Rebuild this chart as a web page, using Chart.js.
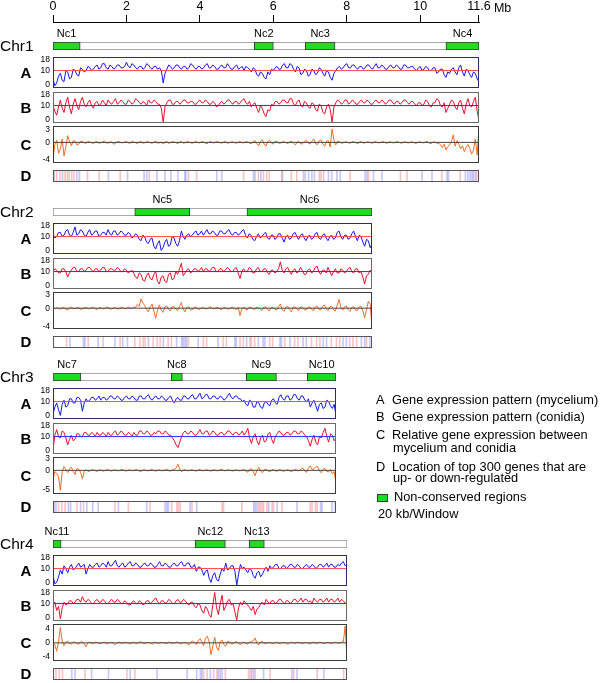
<!DOCTYPE html>
<html>
<head>
<meta charset="utf-8">
<script src="https://cdn.jsdelivr.net/npm/chart.js@4.4.1/dist/chart.umd.min.js"></script>
<style>
body { margin: 0; background: #fff; font-family: "Liberation Sans", Arial, sans-serif; }
#fig { position: relative; width: 600px; height: 683px; overflow: hidden; }
#fig canvas, #fig .txt { position: absolute; }
.txt { white-space: nowrap; color: #000; }
</style>
</head>
<body>
<div id="fig"></div>
<script>
// window step of the plotted series (Mb)
const STEP = 0.05;
const axisTicks = [0, 2, 4, 6, 8, 10, 11.6];
const abTicks = [18, 10, 0];

// ---- Chr1 ----
const chr1Regions = [[0, 0.74], [5.48, 6.0], [6.87, 7.68], [10.7, 11.6]];
const chr1RegionNames = ['Nc1', 'Nc2', 'Nc3', 'Nc4'];
const chr1A = [4,-1,1,6,8,3,2,10,9,4,5,11,10,7,6,12,11,9,10,13,
  12,10,11,13,14,11,12,15,15,12,11,14,13,11,12,14,14,12,12,13,
  16,13,12,15,14,12,11,13,13,11,12,15,14,12,11,13,13,11,12,10,
  1,8,11,14,13,11,12,14,14,12,11,13,13,11,12,15,14,12,11,13,
  13,11,12,14,15,12,12,14,13,11,11,13,14,12,12,15,13,11,11,13,
  14,11,12,13,10,13,12,11,9,12,11,7,6,9,8,5,4,9,7,11,
  10,12,13,11,11,14,15,12,12,15,14,11,9,13,12,7,8,11,10,6,
  7,11,10,7,8,12,11,8,6,10,9,5,3,8,10,12,13,11,12,14,
  15,12,12,14,14,12,11,13,13,11,12,14,14,12,11,13,15,12,12,14,
  13,11,11,13,14,12,12,14,13,11,11,14,14,12,12,13,13,11,10,12,
  13,10,11,13,12,10,10,12,12,8,9,11,11,7,5,9,8,11,12,9,
  7,12,14,9,6,11,10,7,5,9,8,4,2];
const chr1B = [10,6,3,9,14,8,5,12,16,9,4,11,15,10,7,13,16,11,9,12,
  14,10,8,12,13,10,11,14,12,10,14,12,11,13,15,11,12,14,13,11,
  11,14,13,11,12,15,14,12,11,13,12,10,14,12,12,14,13,11,11,8,
  -2,9,12,14,14,11,11,13,13,11,12,14,14,12,12,13,13,11,11,13,
  14,12,12,14,13,11,11,13,12,9,10,12,13,11,12,14,14,12,11,13,
  13,11,12,14,15,12,11,13,9,11,12,8,5,10,8,4,2,7,6,11,
  10,13,13,11,12,14,14,12,12,15,15,11,10,13,14,10,9,13,12,9,
  8,12,11,7,6,11,10,5,4,9,11,7,-2,9,12,14,13,11,12,14,
  14,11,12,14,13,11,11,13,14,12,12,14,13,11,11,13,14,12,12,14,
  13,11,12,14,14,12,11,13,13,11,12,14,14,12,11,13,13,11,10,12,
  12,10,11,14,13,10,9,12,12,15,14,10,9,12,5,8,11,14,13,9,
  7,12,14,8,4,11,15,10,9,13,16,6,-1];
const chr1C = [-4,-0.5,0.5,-2.6,-1.5,0.8,-3.2,-1,1.6,0.2,-0.8,0.4,0.3,-0.6,-0.4,0.3,0.2,-0.1,-0.2,0.2,
  0.1,-0.1,-0.3,0.1,0.2,-0.2,-0.1,0.2,0.3,-0.1,-0.2,0.1,0.1,-0.4,-0.3,0.2,0.2,-0.1,-0.1,0.1,
  0.2,-0.1,-0.2,0.2,0.1,-0.1,-0.3,0.1,0.2,-0.2,-0.1,0.2,0.1,-0.1,-0.2,0.1,0.3,-0.2,-0.1,0.1,
  -0.4,0.1,0.2,-0.2,-0.1,0.2,0.1,-0.1,-0.3,0.1,0.2,-0.2,-0.1,0.2,0.1,-0.1,-0.2,0.1,0.2,-0.1,
  -0.1,0.2,0.1,-0.2,-0.3,0.1,0.2,-0.1,-0.1,0.2,0.1,-0.1,-0.2,0.1,0.2,-0.2,-0.1,0.1,0.1,-0.1,
  -0.2,0.1,0.2,-0.1,-0.1,0.2,0.1,-0.2,-0.3,0.2,0.4,-0.3,-0.8,0.2,0.6,-0.4,-0.9,0.3,0.5,-0.2,
  -0.4,0.3,0.2,-0.2,-0.2,0.2,0.1,-0.1,-0.3,0.2,0.3,-0.2,-0.6,0.1,0.2,-0.4,-0.3,0.3,0.5,-0.2,
  -0.4,0.3,0.8,-0.3,-0.5,0.4,0.6,-0.5,-0.9,0.3,0.4,-1.1,3.2,0.5,-0.6,0.3,0.2,-0.2,-0.1,0.1,
  0.1,-0.1,-0.2,0.2,0.1,-0.1,-0.3,0.1,0.2,-0.2,-0.1,0.1,0.1,-0.1,-0.2,0.2,0.1,-0.1,-0.1,0.1,
  0.2,-0.1,-0.2,0.1,0.1,-0.1,-0.1,0.2,0.1,-0.1,-0.2,0.1,0.1,-0.1,-0.1,0.1,0.1,-0.2,-0.2,0.1,
  0.1,-0.1,-0.1,0.2,0.2,-0.2,-0.3,0.1,0.1,-0.2,-0.2,-0.5,-1.2,-0.4,-1.8,-1.0,-0.6,0.2,1.8,-0.9,
  0.4,-0.4,-1.5,-0.8,-2.2,-1.2,-0.5,-1.4,-2.8,-1.8,0.8,-3.0,3.8];
const chr1CRange = [-4.9, 3.9];
const chr1CTicks = [3, 0, -4];
const chr1Up = [0.1,0.19,0.33,0.39,0.44,0.51,0.57,0.94,1.26,1.83,2.62,3.69,3.91,5.19,5.59,5.73,5.82,5.89,
  6.23,6.49,6.64,7.25,7.3,7.37,8.09,8.59,9.46,9.64,10.59,11.09,11.54];
const chr1Down = [0.03,0.26,0.65,0.72,1.51,2.03,2.48,2.55,2.83,3.05,3.21,3.4,3.59,3.62,4.46,4.6,5.46,5.5,
  5.66,6.25,6.82,6.87,6.96,7.05,7.12,7.5,7.59,7.73,7.82,8.5,8.55,8.73,8.96,10.05,10.32,10.73,10.77,
  11.23,11.3,11.36,11.41,11.45,11.5];

// ---- Chr2 ----
const chr2Regions = [[2.23, 3.73], [5.29, 8.7]];
const chr2RegionNames = ['Nc5', 'Nc6'];
const chr2A = [12,9,10,13,13,10,11,14,15,11,10,13,17,11,12,15,14,11,10,13,
  15,11,12,14,14,10,11,13,13,11,15,12,11,14,14,11,12,14,13,11,
  11,13,12,9,10,12,11,8,7,11,10,6,5,8,9,3,1,5,7,0,
  2,6,8,3,4,10,9,5,3,7,14,10,8,11,12,10,11,13,14,11,
  12,14,11,13,15,12,12,14,13,11,11,14,14,12,12,14,15,12,11,13,
  13,11,12,14,15,11,9,12,11,8,7,10,12,9,10,12,13,9,8,11,
  11,8,9,12,12,9,6,10,11,8,9,12,13,10,8,11,12,9,7,10,
  11,8,9,12,13,9,8,11,12,9,7,10,11,8,9,13,14,10,8,11,
  11,8,9,12,14,10,7,11,10,6,3,8,7,2,5];
const chr2B = [10,12,11,9,9,12,12,10,6,9,11,13,13,10,10,12,12,10,11,13,
  13,11,10,12,12,10,11,13,13,10,10,12,12,11,11,13,12,10,10,12,
  11,9,10,11,9,6,5,9,8,4,3,7,9,5,4,8,10,3,1,6,
  7,3,2,8,9,4,5,10,8,12,16,7,9,11,12,9,10,12,12,10,
  11,13,10,12,12,10,11,13,13,10,10,12,12,10,11,13,12,10,10,12,
  13,9,5,10,12,10,10,13,12,9,9,12,13,10,10,12,12,9,8,11,
  11,9,10,12,17,11,9,12,13,10,8,11,12,9,10,13,11,8,8,11,
  12,9,10,13,14,10,8,11,11,9,13,10,7,10,12,9,9,12,11,9,
  10,12,13,10,9,12,12,9,10,6,1,7,8,11,9];
const chr2C = [0,-0.1,0.1,-0.1,-0.2,0.1,0.1,-0.2,-0.4,0.1,0.2,-0.1,-0.1,0.1,0.1,-0.2,-0.2,0.1,0.1,-0.1,
  -0.1,0.1,0.2,-0.1,-0.3,0.1,0.1,-0.1,-0.1,0.2,0.2,-0.1,-0.2,0.1,0.1,-0.2,-0.1,0.1,0.2,-0.1,
  -0.1,0.2,0.1,-0.1,0.3,0.1,0.8,0.4,2,1.1,0.6,-0.3,-0.8,0.3,0.9,-0.6,-2.2,-0.5,0.7,-0.4,
  -0.9,0.3,0.5,-0.3,-0.6,0.3,0.4,-0.2,-0.5,0.4,1.2,-0.2,-0.8,0.2,0.3,-0.3,-0.4,0.2,0.2,-0.2,
  -0.3,0.1,0.1,-0.1,-0.2,0.2,0.3,-0.1,-0.1,0.1,0.2,-0.2,-0.3,0.1,0.1,-0.1,-0.2,0.1,0.2,-0.1,
  -0.3,0.2,-1.6,-0.2,0.3,-0.2,-0.4,0.2,0.2,-0.1,-0.3,0.2,0.1,-0.2,-0.5,0.2,0.3,-0.3,-0.6,0.2,
  0.2,-0.2,-0.4,0.3,0.9,-0.3,-0.7,0.2,0.4,-0.3,-0.8,0.2,0.3,-0.2,-0.5,0.3,0.2,-0.3,-0.4,0.2,
  0.3,-0.2,-0.6,0.3,0.5,-0.2,-0.3,0.4,0.7,-0.2,-0.5,0.3,0.4,-0.3,-0.6,0.6,1.9,0.2,-0.4,0.3,
  0.5,-0.3,-0.7,0.2,0.3,-0.4,-0.5,0.3,0.4,-0.6,-2.1,-0.3,1.5,0.8,-4];
const chr2CRange = [-4.5, 3.5];
const chr2CTicks = [3, 0, -4];
const chr2Up = [0.37,0.96,1.37,1.83,2.23,2.37,2.46,2.51,2.73,2.84,2.92,3.14,3.23,3.69,4.1,4.19,4.64,4.73,
  5.1,5.19,5.37,5.41,5.5,5.91,5.99,6.32,6.59,6.68,7.05,7.19,7.28,7.59,7.73,7.82,8.09,8.18,8.28,8.55];
const chr2Down = [0.46,0.83,0.87,1.23,1.69,1.9,2.03,2.6,3.01,3.37,3.51,3.55,3.6,3.64,3.96,4.5,4.96,5.0,
  5.28,5.6,5.73,5.78,6.19,6.23,6.46,6.82,6.91,7.37,7.46,7.91,8.0,8.41,8.5,8.64];

// ---- Chr3 ----
const chr3Regions = [[0, 0.76], [3.22, 3.52], [5.26, 6.08], [6.92, 7.7]];
const chr3RegionNames = ['Nc7', 'Nc8', 'Nc9', 'Nc10'];
const chr3A = [1,6,9,4,0,8,11,6,7,12,12,9,9,13,13,11,3,9,12,10,
  11,13,13,11,12,14,11,13,13,11,12,14,14,12,12,14,13,11,11,13,
  14,12,12,14,13,11,11,14,14,12,12,14,15,12,11,13,14,12,12,14,
  13,11,11,13,14,11,9,12,13,11,11,14,14,12,12,14,15,12,12,14,
  16,12,13,15,15,12,12,14,14,12,12,14,13,11,12,14,16,13,12,14,
  14,12,12,10,11,8,7,11,10,6,6,10,9,6,5,9,10,8,7,11,
  12,9,8,13,15,12,11,14,14,11,12,15,15,12,11,14,14,11,10,12,
  6,9,11,7,3,8,9,5,6,11,10,7,5,8,0];
const chr3B = [0,11,15,10,9,14,13,9,4,8,11,7,8,12,12,10,10,13,13,11,
  11,13,12,10,13,11,11,13,12,10,13,11,11,13,14,11,12,14,13,11,
  11,13,12,10,13,11,11,14,14,12,12,14,13,11,11,13,12,14,14,12,
  12,14,13,11,11,9,7,4,2,6,10,13,14,12,12,14,13,11,11,13,
  15,12,12,14,14,11,12,14,13,11,11,13,13,11,12,14,14,12,11,13,
  13,11,12,14,11,13,16,9,5,10,12,7,4,9,11,6,7,12,13,8,
  5,10,12,14,13,11,11,13,13,11,12,14,14,12,12,14,13,11,10,7,
  3,8,11,6,4,10,9,13,16,10,6,12,11,7,9];
const chr3C = [-2.5,-0.3,-0.8,-1.6,-5.2,-0.4,1.0,0.2,-0.6,0.4,0.8,-0.3,-1.1,0.5,0.3,-0.5,-2.3,-0.2,0.2,-0.3,
  -0.2,0.2,0.1,-0.1,-0.3,0.1,0.1,-0.2,-0.1,0.1,0.2,-0.1,-0.2,0.1,0.1,-0.1,-0.1,0.2,0.2,-0.1,
  -0.2,0.1,0.1,-0.1,-0.1,0.2,0.1,-0.2,-0.3,0.1,0.1,-0.1,-0.1,0.1,0.2,-0.1,-0.2,0.1,0.1,-0.1,
  -0.1,0.1,0.2,-0.1,-0.2,0.1,0.3,0.6,1.6,0.3,-0.4,0.1,0.2,-0.1,-0.1,0.1,0.1,-0.1,-0.2,0.1,
  0.2,-0.1,-0.1,0.1,0.1,-0.1,-0.2,0.1,0.1,-0.1,-0.1,0.2,0.2,-0.1,-0.1,0.1,0.1,-0.1,-0.2,0.1,
  0.1,-0.1,-0.1,0.1,0.2,-0.2,-0.5,0.2,0.4,-0.4,-1.4,0.1,0.8,-0.2,-0.6,0.2,0.3,-0.2,-0.4,0.1,
  0.2,-0.1,-0.3,0.2,0.1,-0.2,-0.2,0.1,0.1,-0.2,-0.3,0.1,0.2,-0.1,-0.1,0.4,0.6,-0.2,-0.5,0.5,
  1.2,0.2,0.4,0.9,1.0,-0.2,-0.6,0.3,0.5,-0.3,-0.4,0.2,-0.9,-0.3,-3.5];
const chr3CRange = [-6.2, 3.5];
const chr3CTicks = [3, 0, -5];
const chr3Up = [0.15,0.24,0.33,0.65,0.83,1.69,2.05,2.64,3.23,3.37,3.41,3.46,3.78,4.6,4.64,5.14,5.6,5.64,
  5.69,5.73,5.82,5.96,6.0,6.23,7.0,7.05,7.14,7.19];
const chr3Down = [0.03,0.08,0.42,0.48,0.75,0.92,1.08,1.23,1.78,2.55,3.05,3.1,3.14,3.73,3.91,5.46,5.5,5.55,
  5.87,6.1,6.64,7.28,7.32,7.59,7.68];

// ---- Chr4 ----
const chr4Regions = [[0, 0.22], [3.87, 4.69], [5.34, 5.75]];
const chr4RegionNames = ['Nc11', 'Nc12', 'Nc13'];
const chr4A = [5,-1,0,4,9,6,12,10,7,11,13,9,10,12,14,11,12,13,6,10,
  13,11,11,13,14,11,12,14,13,11,15,12,12,14,16,12,11,13,14,11,
  12,14,15,12,12,14,13,11,11,13,14,12,12,14,13,11,11,13,15,12,
  12,14,13,11,11,13,14,12,12,14,15,12,12,14,14,11,11,13,8,11,
  11,9,5,8,9,3,0,5,7,2,1,6,10,8,14,9,10,12,12,8,
  -2,6,13,10,11,9,7,10,9,5,3,7,8,4,6,9,11,8,12,10,
  11,13,13,10,10,12,12,10,11,13,13,11,11,13,12,10,10,12,13,11,
  11,13,12,10,11,13,13,11,12,14,11,13,13,11,11,13,12,14,15,12,
  13];
const chr4B = [9,11,5,8,-1,7,11,9,10,12,12,10,11,13,13,11,15,12,11,13,
  12,10,10,12,13,11,11,13,12,10,10,12,13,11,11,13,12,10,10,12,
  11,9,9,11,12,10,10,12,11,9,10,12,12,10,11,13,14,11,10,12,
  12,10,11,13,12,10,10,12,13,11,11,13,12,10,9,11,11,8,7,10,
  9,5,3,8,6,2,0,9,18,7,2,10,16,5,8,12,13,9,10,4,
  -2,7,11,9,12,10,9,7,5,8,2,6,7,10,11,9,13,11,10,12,
  12,10,11,13,13,11,10,12,12,10,11,13,13,11,12,14,11,13,13,11,
  12,10,14,12,11,13,13,11,12,14,11,13,13,11,12,14,11,13,12,10,
  11];
const chr4C = [0,-0.5,-2.4,0.3,4.4,0.5,-0.8,0.2,0.5,-0.2,-0.3,0.2,0.2,-0.2,-0.4,0.2,0.3,-0.3,-1.1,0.1,
  0.2,-0.1,-0.2,0.2,0.1,-0.1,-0.3,0.1,0.2,-0.2,-0.1,0.1,0.1,-0.2,-0.5,0.1,0.2,-0.1,-0.1,0.2,
  0.1,-0.1,-0.3,0.1,0.2,-0.2,-0.1,0.2,0.3,-0.1,-0.2,0.1,0.1,-0.1,-0.4,0.1,0.2,-0.2,-0.1,0.1,
  0.1,-0.1,-0.2,0.2,0.1,-0.1,-0.1,0.2,0.2,-0.2,-0.3,0.1,0.1,-0.2,-0.6,0.2,0.5,0.1,-0.4,0.6,
  1.2,0.3,-0.8,1.4,1.9,0.2,-3.4,-0.8,1.6,-1.2,-2.2,0.4,0.8,-0.5,-1.0,0.4,0.3,-0.3,-0.2,0.2,
  0.4,-0.2,-0.5,0.1,0.2,-0.2,-0.3,0.2,0.3,0.6,1.4,-0.2,-0.6,0.3,0.4,-0.2,-0.2,0.1,0.1,-0.1,
  -0.3,0.1,0.2,-0.2,-0.1,0.1,0.1,-0.2,-0.4,0.1,0.2,-0.1,-0.1,0.2,0.1,-0.1,-0.2,0.1,0.1,-0.2,
  -0.3,0.1,0.2,-0.1,-0.1,0.2,0.1,-0.1,-0.2,0.1,0.1,-0.2,-0.1,0.1,0.2,-0.1,-0.1,0.2,0.3,4.8,
  -5];
const chr4CRange = [-5.2, 5.4];
const chr4CTicks = [4, 0, -4];
const chr4Up = [0.08,0.17,0.26,0.87,2.01,2.23,4.1,4.19,4.37,4.46,4.69,5.32,5.37,5.5,5.91,6.55,7.19,7.91];
const chr4Down = [0.51,0.6,1.05,1.51,2.1,2.83,3.65,3.91,4.01,4.05,4.28,4.5,4.55,4.6,5.41,5.46,5.73,6.5,
  6.64,7.37];

// layout
const X0 = 53;
const PX_PER_MB = 36.72;
const AB_RANGE = [-2.6, 19.8];
const FONT = '"Liberation Sans", Arial, Helvetica, sans-serif';

Chart.defaults.font.family = FONT;
Chart.defaults.color = '#000';

const fig = document.getElementById('fig');

function addCanvas(x, y, w, h) {
    const c = document.createElement('canvas');
    c.width = Math.round(w);
    c.height = Math.round(h);
    c.style.left = x + 'px';
    c.style.top = y + 'px';
    fig.appendChild(c);
    return c;
}

function addText(text, x, y, css) {
    const d = document.createElement('div');
    d.className = 'txt';
    d.textContent = text;
    d.style.left = x + 'px';
    d.style.top = y + 'px';
    Object.assign(d.style, css || {});
    fig.appendChild(d);
    return d;
}

// box around the plotting area
const framePlugin = {
    id: 'frame',
    afterDraw(chart, args, opts) {
        if (!opts.color) return;
        const a = chart.chartArea;
        const ctx = chart.ctx;
        ctx.save();
        ctx.strokeStyle = opts.color;
        ctx.lineWidth = 1;
        ctx.strokeRect(Math.round(a.left) + 0.5, Math.round(a.top) + 0.5,
            Math.round(a.width) - 1, Math.round(a.height) - 1);
        ctx.restore();
    }
};

// small value labels left of each panel
const yLabelPlugin = {
    id: 'yLabels',
    afterDraw(chart, args, opts) {
        if (!opts.values) return;
        const ctx = chart.ctx;
        const y = chart.scales.y;
        ctx.save();
        ctx.font = '8.5px ' + FONT;
        ctx.fillStyle = '#000';
        ctx.textAlign = 'right';
        ctx.textBaseline = 'middle';
        opts.values.forEach(v => ctx.fillText(String(v), chart.chartArea.left - 3, y.getPixelForValue(v)));
        ctx.restore();
    }
};

// Nc names above the green blocks
const regionNamePlugin = {
    id: 'regionNames',
    afterDatasetsDraw(chart, args, opts) {
        if (!opts.names) return;
        const ctx = chart.ctx;
        const x = chart.scales.x;
        ctx.save();
        ctx.font = '11px ' + FONT;
        ctx.fillStyle = '#000';
        ctx.textAlign = 'center';
        ctx.textBaseline = 'bottom';
        opts.regions.forEach((r, i) => {
            ctx.fillText(opts.names[i], x.getPixelForValue((r[0] + r[1]) / 2), chart.chartArea.top - 3);
        });
        ctx.restore();
    }
};

Chart.register(framePlugin, yLabelPlugin, regionNamePlugin);

const baseOptions = {
    responsive: false,
    animation: false,
    events: [],
    devicePixelRatio: 1
};

function topAxis(len) {
    const c = addCanvas(0, -2, X0 + len * PX_PER_MB + 30, 70);
    new Chart(c, {
        type: 'scatter',
        data: { datasets: [{ data: [] }] },
        options: {
            ...baseOptions,
            layout: { padding: { left: X0, right: 30, top: 0, bottom: 0 } },
            scales: {
                x: {
                    type: 'linear', position: 'top', min: 0, max: len,
                    afterBuildTicks: s => { s.ticks = axisTicks.map(v => ({ value: v })); },
                    ticks: { autoSkip: false, maxRotation: 0, padding: 1, font: { size: 12.5 }, callback: v => String(v) },
                    grid: { drawOnChartArea: false, tickLength: 7, color: '#000', lineWidth: 1 },
                    border: { color: '#000', width: 1 }
                },
                y: { display: false }
            },
            plugins: { legend: { display: false }, tooltip: { enabled: false } }
        }
    });
    addText('Mb', X0 + len * PX_PER_MB + 15, 1, { fontSize: '12.5px' });
}

function chromosomeBar(top, len, regions, names) {
    const padTop = 16;
    const c = addCanvas(0, top - padTop, X0 + len * PX_PER_MB + 2, padTop + 9);
    new Chart(c, {
        type: 'bar',
        data: {
            labels: ['chr'],
            datasets: [{
                data: regions.map(r => ({ x: r, y: 'chr' })),
                backgroundColor: '#1fdc1f', borderColor: '#3a3a3a', borderWidth: 1, borderSkipped: false,
                grouped: false, barPercentage: 1, categoryPercentage: 1
            }, {
                data: [{ x: [0, len], y: 'chr' }],
                backgroundColor: '#ffffff', borderColor: '#8c8c8c', borderWidth: 1, borderSkipped: false,
                grouped: false, barPercentage: 1, categoryPercentage: 1
            }]
        },
        options: {
            ...baseOptions,
            indexAxis: 'y',
            layout: { padding: { left: X0, right: 2, top: padTop, bottom: 1 } },
            scales: {
                x: { type: 'linear', display: false, min: 0, max: len },
                y: { display: false }
            },
            plugins: {
                legend: { display: false }, tooltip: { enabled: false },
                regionNames: { regions: regions, names: names }
            }
        }
    });
}

function tracePanel(top, h, len, values, color, refValue, refColor, range, ticks, frameColor) {
    const pad = 5;
    const c = addCanvas(0, top - pad, X0 + len * PX_PER_MB + 2, h + 2 * pad);
    new Chart(c, {
        type: 'line',
        data: {
            datasets: [{
                data: [{ x: 0, y: refValue }, { x: len, y: refValue }],
                borderColor: refColor, borderWidth: 1, pointRadius: 0
            }, {
                data: values.map((v, i) => ({ x: i * STEP, y: v })),
                borderColor: color, borderWidth: 1, pointRadius: 0, tension: 0
            }]
        },
        options: {
            ...baseOptions,
            layout: { padding: { left: X0, right: 2, top: pad, bottom: pad } },
            scales: {
                x: { type: 'linear', display: false, min: 0, max: len },
                y: { display: false, min: range[0], max: range[1] }
            },
            plugins: {
                legend: { display: false }, tooltip: { enabled: false },
                frame: { color: frameColor },
                yLabels: { values: ticks }
            }
        }
    });
}

function genePanel(top, h, len, up, down) {
    const c = addCanvas(0, top, X0 + len * PX_PER_MB + 2, h);
    const bar = (list, colour) => ({
        data: list.map(p => ({ x: p, y: 1 })),
        backgroundColor: colour, borderWidth: 0, barThickness: 1, grouped: false
    });
    new Chart(c, {
        type: 'bar',
        data: { datasets: [bar(up, 'rgba(240,60,70,0.3)'), bar(down, 'rgba(70,70,240,0.3)')] },
        options: {
            ...baseOptions,
            layout: { padding: { left: X0, right: 2, top: 0, bottom: 0 } },
            scales: {
                x: { type: 'linear', display: false, min: 0, max: len, offset: false },
                y: { display: false, min: 0, max: 1 }
            },
            plugins: {
                legend: { display: false }, tooltip: { enabled: false },
                frame: { color: '#555' }
            }
        }
    });
}

function chromosome(name, top, regions, names, A, B, C, cRange, cTicks, up, down) {
    const len = (A.length - 1) * STEP;
    addText(name, 0, top - 5, { fontSize: '15.5px', lineHeight: '18px' });
    chromosomeBar(top, len, regions, names);

    const panels = [['A', 15, 31], ['B', 50, 31], ['C', 84, 37], ['D', 128, 12]];
    panels.forEach(p => {
        addText(p[0], 15, top + p[1] + p[2] / 2 - 9,
            { fontSize: '15px', fontWeight: 'bold', width: '22px', textAlign: 'center', lineHeight: '18px' });
    });
    tracePanel(top + 15, 31, len, A, '#1616e8', 10, '#ff4848', AB_RANGE, abTicks, '#2c2c66');
    tracePanel(top + 50, 31, len, B, '#e8102a', 10, '#2b2bff', AB_RANGE, abTicks, '#6a6a6a');
    tracePanel(top + 84, 37, len, C, '#f26b21', 0, '#444', cRange, cTicks, '#3a3a3a');
    genePanel(top + 128, 12, len, up, down);
}

topAxis((chr1A.length - 1) * STEP);
chromosome('Chr1', 42, chr1Regions, chr1RegionNames, chr1A, chr1B, chr1C, chr1CRange, chr1CTicks, chr1Up, chr1Down);
chromosome('Chr2', 208, chr2Regions, chr2RegionNames, chr2A, chr2B, chr2C, chr2CRange, chr2CTicks, chr2Up, chr2Down);
chromosome('Chr3', 373, chr3Regions, chr3RegionNames, chr3A, chr3B, chr3C, chr3CRange, chr3CTicks, chr3Up, chr3Down);
chromosome('Chr4', 540, chr4Regions, chr4RegionNames, chr4A, chr4B, chr4C, chr4CRange, chr4CTicks, chr4Up, chr4Down);

// legend
const legendFont = { fontSize: '12.8px', lineHeight: '14px' };
addText('A', 376, 393, legendFont);
addText('Gene expression pattern (mycelium)', 392, 393, legendFont);
addText('B', 376, 410, legendFont);
addText('Gene expression pattern (conidia)', 392, 410, legendFont);
addText('C', 376, 428, legendFont);
addText('Relative gene expression between', 392, 428, legendFont);
addText('mycelium and conidia', 393, 441, legendFont);
addText('D', 376, 460, legendFont);
addText('Location of top 300 genes that are', 392, 460, legendFont);
addText('up- or down-regulated', 393, 471, legendFont);
addText('', 377, 494, { width: '9px', height: '6px', background: '#1fdc1f', border: '1px solid #3a3a3a' });
addText('Non-conserved regions', 394, 490, legendFont);
addText('20 kb/Window', 378, 507, legendFont);
</script>
</body>
</html>
